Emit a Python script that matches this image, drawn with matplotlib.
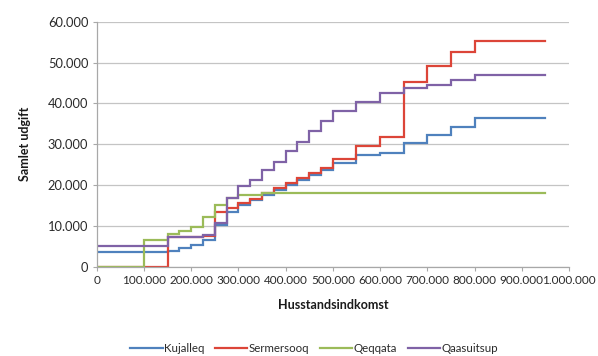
import matplotlib
matplotlib.use("Agg")
import matplotlib.pyplot as plt
from matplotlib.ticker import FuncFormatter, MultipleLocator

# Income bracket lower bounds (kr.), last value closes the final bracket
income = [0, 100000, 150000, 175000, 200000, 225000, 250000, 275000, 300000,
          325000, 350000, 375000, 400000, 425000, 450000, 475000, 500000,
          550000, 600000, 650000, 700000, 750000, 800000, 950000]

kujalleq = [3500, 3500, 3800, 4500, 5300, 6500, 10300, 13300, 15000,
            16300, 17500, 18800, 20000, 21300, 22500, 23800, 25300,
            27400, 27900, 30300, 32300, 34300, 36300, 36300]

sermersooq = [0, 0, 7300, 7300, 7300, 7500, 13500, 14300, 15500,
              16700, 18000, 19300, 20500, 21800, 23000, 24200, 26500,
              29600, 31800, 45300, 49200, 52700, 55300, 55300]

qeqqata = [0, 6500, 8000, 8800, 9800, 12200, 15000, 16800, 17600,
           17600, 18000, 18000, 18000, 18000, 18000, 18000, 18000,
           18000, 18000, 18000, 18000, 18000, 18000, 18000]

qaasuitsup = [5000, 5000, 7300, 7300, 7300, 7800, 10700, 16800, 19800,
              21300, 23700, 25700, 28400, 30600, 33300, 35800, 38200,
              40400, 42500, 43800, 44500, 45700, 46900, 46900]

series_names = ["Kujalleq", "Sermersooq", "Qeqqata", "Qaasuitsup"]
series_values = [kujalleq, sermersooq, qeqqata, qaasuitsup]
series_colors = ["#4F81BD", "#DC4538", "#9BBB59", "#7F62A6"]

plt.rcParams["font.family"] = ["Lato", "DejaVu Sans"]

fig = plt.figure(figsize=(5.98, 3.56), dpi=100)
ax = fig.add_axes([0.1617, 0.2508, 0.7898, 0.6882])

for name, vals, col in zip(series_names, series_values, series_colors):
    ax.step(income, vals, where="post", color=col, lw=1.6, label=name,
            solid_joinstyle="miter")

def dotted_thousands(v, _pos):
    return f"{int(round(v)):,}".replace(",", ".")

ax.set_xlim(0, 1000000)
ax.set_ylim(0, 60000)
ax.xaxis.set_major_locator(MultipleLocator(100000))
ax.yaxis.set_major_locator(MultipleLocator(10000))
ax.xaxis.set_major_formatter(FuncFormatter(dotted_thousands))
ax.yaxis.set_major_formatter(FuncFormatter(dotted_thousands))

ax.grid(axis="y", color="#C4C4C4", lw=0.9)
ax.set_axisbelow(True)
for side in ("top", "right"):
    ax.spines[side].set_visible(False)
for side in ("left", "bottom"):
    ax.spines[side].set_color("#A8A8A8")
    ax.spines[side].set_linewidth(0.9)

ax.tick_params(axis="both", colors="#A8A8A8", length=3, width=0.8,
               labelcolor="#2A2A2A")
ax.tick_params(axis="x", pad=3, labelsize=8.5)
ax.tick_params(axis="y", pad=3, labelsize=9.3)

ax.set_xlabel("Husstandsindkomst", fontsize=9.0, fontweight="bold",
              color="#1A1A1A", labelpad=9)
ax.set_ylabel("Samlet udgift", fontsize=9.0, fontweight="bold",
              color="#1A1A1A", labelpad=12)

leg = fig.legend(loc="center", bbox_to_anchor=(0.525, 0.02), ncol=4,
                 frameon=False, fontsize=8.3, handlelength=2.8,
                 handletextpad=0.1, columnspacing=0.95)
for t in leg.get_texts():
    t.set_color("#2A2A2A")

fig.savefig("out.png", dpi=100)
